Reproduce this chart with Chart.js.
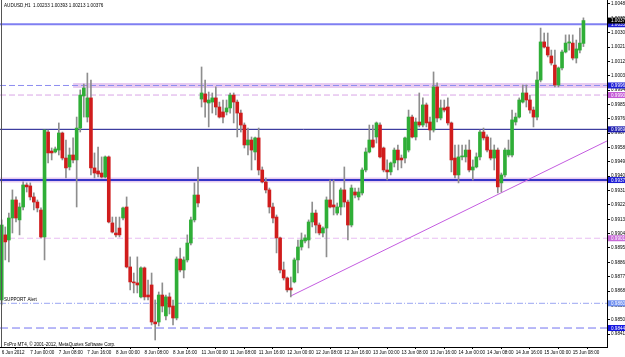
<!DOCTYPE html>
<html lang="en">
  <head>
    <meta charset="UTF-8" />
    <title>AUDUSD,H1</title>
    <script src="https://cdn.jsdelivr.net/npm/chart.js"></script>
    <style>
      html, body { margin: 0; padding: 0; background: #fff; }
      canvas { display: block; }
    </style>
  </head>
  <body>
    <canvas id="priceChart" width="625" height="357"></canvas>

    <script>
      // hourly bars, 6 Jun 16:00 .. 15 Jun 11:00
      const opens = [
        0.98624, 0.99032, 0.99000, 0.99138, 0.99251, 0.99126, 0.99207, 0.99345, 0.99339, 0.99270,
        0.99238, 0.99188, 0.99019, 0.99677, 0.99558, 0.99552, 0.99564, 0.99671, 0.99514, 0.99458,
        0.99533, 0.99502, 0.99702, 0.99903, 0.99771, 0.99891, 0.99452, 0.99433, 0.99420, 0.99395,
        0.99521, 0.99107, 0.99044, 0.99075, 0.99138, 0.99207, 0.98831, 0.98737, 0.98731, 0.98643,
        0.98825, 0.98655, 0.98718, 0.98486, 0.98486, 0.98655, 0.98524, 0.98643, 0.98586, 0.98511,
        0.98881, 0.98812, 0.98875, 0.98981, 0.99126, 0.99282, 0.99884, 0.99916, 0.99859, 0.99865,
        0.99891, 0.99834, 0.99803, 0.99803, 0.99828, 0.99909, 0.99865, 0.99796, 0.99721, 0.99596,
        0.99627, 0.99552, 0.99640, 0.99439, 0.99364, 0.99314, 0.99207, 0.99144, 0.99013, 0.98812,
        0.98762, 0.98699, 0.98737, 0.98875, 0.98956, 0.98994, 0.99000, 0.99113, 0.99169, 0.99094,
        0.99044, 0.99075, 0.99251, 0.99220, 0.99169, 0.99207, 0.99314, 0.99238, 0.99094, 0.99301,
        0.99270, 0.99295, 0.99439, 0.99552, 0.99627, 0.99646, 0.99721, 0.99577, 0.99439, 0.99427,
        0.99483, 0.99564, 0.99514, 0.99514, 0.99564, 0.99771, 0.99646, 0.99740, 0.99721, 0.99847,
        0.99740, 0.99690, 0.99960, 0.99765, 0.99828, 0.99834, 0.99734, 0.99514, 0.99408, 0.99521,
        0.99521, 0.99564, 0.99439, 0.99458, 0.99521, 0.99677, 0.99646, 0.99564, 0.99514, 0.99564,
        0.99358, 0.99408, 0.99533, 0.99533, 0.99740, 0.99771, 0.99865, 0.99922, 0.99878, 0.99815,
        0.99771, 1.00003, 1.00242, 1.00210, 1.00154, 1.00097, 0.99972, 1.00079, 1.00179, 1.00235,
        1.00235, 1.00141, 1.00191, 1.00233
      ];
      const highs = [
        0.99126, 0.99082, 0.99169, 0.99314, 0.99270, 0.99232, 0.99364, 0.99358, 0.99358, 0.99295,
        0.99251, 0.99201, 0.99690, 0.99690, 0.99577, 0.99583, 0.99734, 0.99677, 0.99627, 0.99577,
        0.99640, 0.99771, 0.99941, 0.99978, 1.00047, 1.00003, 0.99546, 0.99583, 0.99521, 0.99527,
        0.99527, 0.99144, 0.99144, 0.99144, 0.99207, 0.99270, 0.98894, 0.98793, 0.98894, 0.98831,
        0.98831, 0.98749, 0.98793, 0.98624, 0.98674, 0.98731, 0.98655, 0.98668, 0.98624, 0.98894,
        0.98950, 0.98894, 0.99032, 0.99144, 0.99358, 0.99458, 1.00085, 1.00003, 0.99928, 0.99922,
        0.99960, 0.99865, 0.99878, 0.99878, 0.99922, 0.99922, 0.99878, 0.99815, 0.99734, 0.99702,
        0.99646, 0.99646, 0.99702, 0.99458, 0.99389, 0.99326, 0.99232, 0.99157, 0.99019, 0.98862,
        0.98768, 0.98768, 0.98887, 0.99000, 0.99044, 0.99032, 0.99126, 0.99238, 0.99188, 0.99107,
        0.99082, 0.99270, 0.99376, 0.99376, 0.99232, 0.99326, 0.99458, 0.99251, 0.99345, 0.99326,
        0.99326, 0.99452, 0.99577, 0.99721, 0.99721, 0.99740, 0.99734, 0.99583, 0.99502, 0.99489,
        0.99577, 0.99596, 0.99533, 0.99646, 0.99815, 0.99784, 0.99765, 0.99922, 0.99891, 0.99859,
        0.99771, 1.00054, 0.99985, 0.99878, 0.99878, 0.99891, 0.99740, 0.99596, 0.99596, 0.99596,
        0.99596, 0.99627, 0.99502, 0.99546, 0.99690, 0.99702, 0.99659, 0.99640, 0.99596, 0.99577,
        0.99420, 0.99577, 0.99627, 0.99815, 0.99796, 0.99891, 0.99972, 0.99972, 0.99909, 0.99834,
        1.00054, 1.00329, 1.00298, 1.00298, 1.00191, 1.00191, 1.00085, 1.00191, 1.00286, 1.00286,
        1.00286, 1.00254, 1.00329, 1.00393
      ];
      const lows = [
        0.98593, 0.98875, 0.98862, 0.99044, 0.99113, 0.99032, 0.99188, 0.99301, 0.99251, 0.99188,
        0.99176, 0.99013, 0.98875, 0.99483, 0.99502, 0.99546, 0.99533, 0.99502, 0.99389, 0.99439,
        0.99483, 0.99207, 0.99677, 0.99771, 0.99740, 0.99408, 0.99389, 0.99395, 0.99389, 0.99389,
        0.99107, 0.99044, 0.99019, 0.99019, 0.99126, 0.98825, 0.98687, 0.98668, 0.98668, 0.98637,
        0.98624, 0.98624, 0.98467, 0.98373, 0.98461, 0.98549, 0.98499, 0.98536, 0.98467, 0.98499,
        0.98800, 0.98762, 0.98862, 0.98969, 0.99113, 0.99207, 0.99834, 0.99771, 0.99709, 0.99796,
        0.99784, 0.99765, 0.99734, 0.99784, 0.99796, 0.99734, 0.99646, 0.99677, 0.99577, 0.99533,
        0.99439, 0.99502, 0.99408, 0.99358, 0.99295, 0.99169, 0.99107, 0.98919, 0.98793, 0.98749,
        0.98674, 0.98643, 0.98731, 0.98793, 0.98937, 0.98981, 0.98950, 0.99082, 0.99044, 0.99032,
        0.99019, 0.98894, 0.99201, 0.99157, 0.99157, 0.99157, 0.99207, 0.99000, 0.99082, 0.99264,
        0.99251, 0.99282, 0.99427, 0.99546, 0.99577, 0.99608, 0.99514, 0.99427, 0.99376, 0.99408,
        0.99458, 0.99439, 0.99452, 0.99483, 0.99552, 0.99640, 0.99627, 0.99709, 0.99709, 0.99709,
        0.99627, 0.99677, 0.99740, 0.99753, 0.99803, 0.99721, 0.99427, 0.99389, 0.99358, 0.99502,
        0.99489, 0.99427, 0.99376, 0.99452, 0.99502, 0.99627, 0.99552, 0.99502, 0.99439, 0.99295,
        0.99301, 0.99395, 0.99521, 0.99521, 0.99721, 0.99765, 0.99859, 0.99834, 0.99796, 0.99709,
        0.99753, 0.99991, 1.00204, 1.00148, 1.00097, 0.99960, 0.99960, 1.00066, 1.00173, 1.00191,
        1.00129, 1.00110, 1.00173, 1.00213
      ];
      const closes = [
        0.99094, 0.98988, 0.99138, 0.99251, 0.99138, 0.99207, 0.99345, 0.99333, 0.99270, 0.99238,
        0.99201, 0.99019, 0.99690, 0.99546, 0.99546, 0.99571, 0.99671, 0.99514, 0.99452, 0.99533,
        0.99502, 0.99702, 0.99909, 0.99953, 0.99891, 0.99452, 0.99420, 0.99414, 0.99395, 0.99521,
        0.99113, 0.99050, 0.99032, 0.99032, 0.99201, 0.98831, 0.98737, 0.98731, 0.98718, 0.98825,
        0.98643, 0.98643, 0.98486, 0.98474, 0.98655, 0.98586, 0.98643, 0.98580, 0.98511, 0.98881,
        0.98812, 0.98875, 0.98981, 0.99126, 0.99282, 0.99232, 0.99922, 0.99865, 0.99878, 0.99891,
        0.99834, 0.99771, 0.99771, 0.99828, 0.99909, 0.99865, 0.99796, 0.99721, 0.99596, 0.99627,
        0.99564, 0.99640, 0.99439, 0.99364, 0.99314, 0.99207, 0.99138, 0.99013, 0.98812, 0.98762,
        0.98687, 0.98687, 0.98875, 0.98956, 0.99000, 0.99013, 0.99113, 0.99169, 0.99094, 0.99044,
        0.99075, 0.99251, 0.99207, 0.99207, 0.99207, 0.99314, 0.99238, 0.99094, 0.99326, 0.99282,
        0.99301, 0.99439, 0.99552, 0.99627, 0.99583, 0.99734, 0.99521, 0.99439, 0.99427, 0.99483,
        0.99564, 0.99502, 0.99502, 0.99640, 0.99771, 0.99646, 0.99740, 0.99721, 0.99847, 0.99734,
        0.99690, 0.99960, 0.99765, 0.99828, 0.99815, 0.99734, 0.99502, 0.99408, 0.99521, 0.99527,
        0.99564, 0.99439, 0.99458, 0.99521, 0.99677, 0.99640, 0.99564, 0.99514, 0.99564, 0.99333,
        0.99408, 0.99564, 0.99564, 0.99753, 0.99771, 0.99878, 0.99922, 0.99878, 0.99815, 0.99771,
        1.00003, 1.00242, 1.00210, 1.00160, 1.00110, 0.99972, 1.00079, 1.00179, 1.00235, 1.00242,
        1.00141, 1.00198, 1.00235, 1.00376
      ];

      // time axis labels, one every 8 bars
      const timeTickBars = [0, 8, 16, 24, 32, 40, 48, 56, 64, 72, 80, 88, 96, 104, 112, 120, 128, 136, 144, 152, 160];
      const timeTickLabels = [
        "6 Jun 2012", "7 Jun 00:00", "7 Jun 08:00", "7 Jun 16:00", "8 Jun 00:00", "8 Jun 08:00", "8 Jun 16:00",
        "11 Jun 00:00", "11 Jun 08:00", "11 Jun 16:00", "12 Jun 00:00", "12 Jun 08:00", "12 Jun 16:00",
        "13 Jun 00:00", "13 Jun 08:00", "13 Jun 16:00", "14 Jun 00:00", "14 Jun 08:00", "14 Jun 16:00",
        "15 Jun 00:00", "15 Jun 08:00"
      ];

      // price axis labels
      const priceTicks = [
        1.0048, 1.0039, 1.003, 1.0021, 1.0012, 1.0003, 0.9994, 0.9985, 0.9976, 0.9967, 0.9958, 0.9949,
        0.994, 0.9931, 0.9922, 0.9913, 0.9904, 0.9895, 0.9886, 0.9877, 0.9868, 0.9859, 0.985, 0.9841
      ];

      // horizontal levels drawn on the chart
      const levelPrices = [1.00353, 0.99969, 0.99909, 0.99694, 0.99376, 0.99011, 0.98603, 0.98448];
      const bandPrices = [0.99969, 0.99376];
      const bandStartBars = [20, -0.48];
      // trend line from the 12 Jun low
      const trendBars = [81, 169.6];
      const trendPrices = [0.98649, 0.99621];

      const X_MIN = -0.48, X_MAX = 169.6;
      const Y_MIN = 0.98329, Y_MAX = 1.00505;

      const levelStyles = [
        { color: "#7f7ff2", width: 2, dash: [], box: "#1c1cd6" },
        { color: "#8c8cf0", width: 1, dash: [6, 3], box: "#1c1cd6" },
        { color: "#d9a6e6", width: 1, dash: [6, 3], box: "#c45ad6" },
        { color: "#12128a", width: 1, dash: [], box: "#1c1cb0" },
        { color: "#3434c8", width: 2, dash: [], box: "#1c1cd6" },
        { color: "#e8bdf2", width: 1, dash: [6, 3], box: "#c86ad8" },
        { color: "#9aa6f2", width: 1, dash: [6, 2, 1, 2], box: "#6f8ff0" },
        { color: "#7272f0", width: 1, dash: [8, 4], box: "#1414e0" },
      ];

      const FONT = "Liberation Sans";
      const bars = closes.map((c, i) => i);

      const datasets = [
        {
          label: "bodies",
          data: bars.map((i) => ({ x: i, y: [opens[i], closes[i]] })),
          backgroundColor: bars.map((i) => (closes[i] >= opens[i] ? "#2fae37" : "#d01c1c")),
          barThickness: 3,
          minBarLength: 1,
          grouped: false,
          order: 0,
        },
        {
          label: "wicks",
          data: bars.map((i) => ({ x: i, y: [lows[i], highs[i]] })),
          backgroundColor: "#8e8e8e",
          barThickness: 1,
          grouped: false,
          order: 1,
        },
        {
          type: "line",
          label: "trend",
          data: trendBars.map((b, k) => ({ x: b, y: trendPrices[k] })),
          borderColor: "#c45ce0",
          borderWidth: 1,
          pointRadius: 0,
          order: 2,
        },
      ];

      levelPrices.forEach((p, k) => {
        const st = levelStyles[k];
        datasets.push({
          type: "line",
          label: "level" + k,
          data: [{ x: X_MIN, y: p }, { x: X_MAX, y: p }],
          borderColor: st.color,
          borderWidth: st.width,
          borderDash: st.dash,
          pointRadius: 0,
          order: 3,
        });
      });

      bandPrices.forEach((p, k) => {
        datasets.push({
          type: "line",
          label: "band" + k,
          data: [{ x: bandStartBars[k], y: p }, { x: X_MAX, y: p }],
          borderColor: "rgba(214, 160, 228, 0.55)",
          borderWidth: 5,
          pointRadius: 0,
          order: 4,
        });
      });

      // texts and price boxes that MT4 paints over the chart
      const overlay = {
        id: "overlay",
        afterDraw(chart) {
          const { ctx, chartArea } = chart;
          const ys = chart.scales.y;
          ctx.save();
          ctx.strokeStyle = "#555";
          ctx.lineWidth = 1;
          ctx.beginPath();
          ctx.moveTo(1.5, 0);
          ctx.lineTo(1.5, chartArea.bottom);
          ctx.stroke();

          ctx.fillStyle = "#000";
          ctx.font = "4.6px '" + FONT + "'";
          ctx.textBaseline = "middle";
          ctx.textAlign = "left";
          const last = closes.length - 1;
          ctx.fillText(
            "AUDUSD,H1  " + [opens[last], highs[last], lows[last], closes[last]].map((v) => v.toFixed(5)).join(" "),
            4, 6
          );
          ctx.fillText("SUPPORT Alert", 4, ys.getPixelForValue(levelPrices[6]) - 4);
          ctx.fillText("FxPro MT4, \u00a9 2001-2012, MetaQuotes Software Corp.", 4, chartArea.bottom - 2);

          const boxes = levelPrices.map((p, k) => ({ p, c: levelStyles[k].box }));
          boxes.push({ p: closes[last], c: "#000" });
          boxes.forEach((b) => {
            const y = ys.getPixelForValue(b.p);
            ctx.fillStyle = b.c;
            ctx.fillRect(chartArea.right + 1, y - 3, 24, 6);
            ctx.fillStyle = "#fff";
            ctx.fillText(b.p.toFixed(5), chartArea.right + 4, y + 0.3);
          });
          ctx.restore();
        },
      };

      const ctx = document.getElementById("priceChart").getContext("2d");
      new Chart(ctx, {
        type: "bar",
        data: { datasets },
        options: {
          responsive: false,
          animation: false,
          devicePixelRatio: 1,
          layout: { padding: 0 },
          plugins: { legend: { display: false }, tooltip: { enabled: false } },
          scales: {
            x: {
              type: "linear",
              min: X_MIN,
              max: X_MAX,
              offset: false,
              grid: { drawOnChartArea: false, drawTicks: true, tickLength: 2, color: "#000" },
              border: { display: true, color: "#000" },
              ticks: {
                autoSkip: false,
                maxRotation: 0,
                align: "start",
                padding: 1,
                color: "#000",
                font: { family: FONT, size: 4.6 },
                callback: (v, idx) => timeTickLabels[idx],
              },
              afterBuildTicks: (s) => {
                s.ticks = timeTickBars.map((v) => ({ value: v }));
              },
              afterFit: (s) => {
                s.height = 10;
                s.paddingLeft = 0;
                s.paddingRight = 0;
              },
            },
            y: {
              position: "right",
              min: Y_MIN,
              max: Y_MAX,
              grid: { drawOnChartArea: false, drawTicks: true, tickLength: 3, color: "#000" },
              border: { display: true, color: "#000" },
              ticks: {
                padding: 1,
                color: "#000",
                font: { family: FONT, size: 4.6 },
                callback: (v) => Number(v).toFixed(5),
              },
              afterBuildTicks: (s) => {
                s.ticks = priceTicks.map((v) => ({ value: v }));
              },
              afterFit: (s) => {
                s.width = 18;
                s.paddingTop = 0;
                s.paddingBottom = 0;
              },
            },
          },
        },
        plugins: [overlay],
      });
    </script>
  </body>
</html>
